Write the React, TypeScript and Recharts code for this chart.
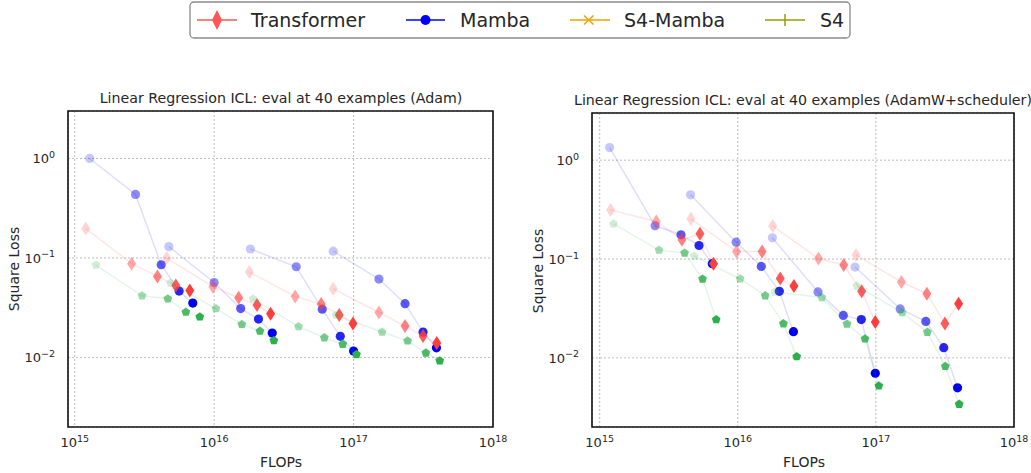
import React from 'react';
import { ScatterChart, Scatter, XAxis, YAxis, CartesianGrid, ReferenceArea } from 'recharts';

const FONT = '"DejaVu Sans", sans-serif';

// opacity of each checkpoint inside one run (earliest is faintest)
const stepAlpha = [0.22, 0.45, 0.65, 0.85, 1];

const xTicks = [1e15, 1e16, 1e17, 1e18];
const yTicks = [1e-2, 1e-1, 1];

// ---- Adam panel ----
const adamTransformerFlops = [
  [1.2e15, 2.56e15, 3.92e15, 5.31e15, 6.69e15],
  [4.57e15, 9.8e15, 1.5e16, 2.03e16, 2.54e16],
  [1.79e16, 3.81e16, 5.86e16, 7.89e16, 9.9e16],
  [7.15e16, 1.52e17, 2.34e17, 3.15e17, 3.95e17],
];
const adamTransformerLoss = [
  [0.198, 0.0875, 0.0652, 0.053, 0.0471],
  [0.0998, 0.0514, 0.0398, 0.0336, 0.0275],
  [0.0722, 0.041, 0.0344, 0.0267, 0.022],
  [0.049, 0.0283, 0.0207, 0.0164, 0.014],
];
const adamMambaFlops = [
  [1.28e15, 2.73e15, 4.17e15, 5.61e15, 7.03e15],
  [4.73e15, 1.0e16, 1.55e16, 2.08e16, 2.61e16],
  [1.82e16, 3.88e16, 5.96e16, 8.03e16, 1.0e17],
  [7.15e16, 1.52e17, 2.34e17, 3.15e17, 3.93e17],
];
const adamMambaLoss = [
  [1.0, 0.435, 0.0855, 0.0465, 0.0352],
  [0.13, 0.0567, 0.031, 0.0243, 0.0176],
  [0.123, 0.0816, 0.0306, 0.0163, 0.0116],
  [0.117, 0.0614, 0.0347, 0.018, 0.0125],
];
const adamS4Flops = [
  [1.42e15, 3.04e15, 4.65e15, 6.27e15, 7.89e15],
  [4.87e15, 1.03e16, 1.58e16, 2.13e16, 2.68e16],
  [1.9e16, 4.03e16, 6.17e16, 8.36e16, 1.05e17],
  [7.48e16, 1.6e17, 2.44e17, 3.3e17, 4.15e17],
];
const adamS4Loss = [
  [0.0849, 0.0417, 0.0389, 0.0286, 0.0256],
  [0.056, 0.031, 0.0215, 0.0184, 0.0148],
  [0.0389, 0.0204, 0.0158, 0.0136, 0.0107],
  [0.0267, 0.018, 0.0147, 0.0111, 0.00927],
];

// ---- AdamW + scheduler panel ----
const schedTransformerFlops = [
  [1.2e15, 2.57e15, 3.94e15, 5.32e15, 6.67e15],
  [4.58e15, 9.8e15, 1.5e16, 2.03e16, 2.55e16],
  [1.79e16, 3.84e16, 5.85e16, 7.89e16, 9.9e16],
  [7.18e16, 1.53e17, 2.34e17, 3.16e17, 3.97e17],
];
const schedTransformerLoss = [
  [0.313, 0.24, 0.157, 0.18, 0.0897],
  [0.255, 0.119, 0.119, 0.0637, 0.0534],
  [0.216, 0.101, 0.087, 0.0471, 0.0231],
  [0.11, 0.0586, 0.0446, 0.0223, 0.0353],
];
const schedMambaFlops = [
  [1.18e15, 2.52e15, 3.88e15, 5.24e15, 6.54e15],
  [4.55e15, 9.73e15, 1.48e16, 2.0e16, 2.53e16],
  [1.78e16, 3.81e16, 5.81e16, 7.84e16, 9.9e16],
  [7.06e16, 1.5e17, 2.3e17, 3.1e17, 3.9e17],
];
const schedMambaLoss = [
  [1.34, 0.217, 0.176, 0.137, 0.0897],
  [0.446, 0.148, 0.0841, 0.0471, 0.0184],
  [0.164, 0.0465, 0.0269, 0.0244, 0.00699],
  [0.083, 0.0313, 0.0234, 0.0127, 0.00498],
];
const schedS4Flops = [
  [1.26e15, 2.69e15, 4.12e15, 5.56e15, 6.98e15],
  [4.84e15, 1.04e16, 1.58e16, 2.14e16, 2.67e16],
  [1.86e16, 4.06e16, 6.18e16, 8.34e16, 1.05e17],
  [7.26e16, 1.55e17, 2.36e17, 3.18e17, 4.01e17],
];
const schedS4Loss = [
  [0.227, 0.123, 0.115, 0.0628, 0.0244],
  [0.107, 0.0632, 0.0426, 0.0222, 0.0103],
  [0.0465, 0.0409, 0.022, 0.0156, 0.00521],
  [0.0534, 0.0287, 0.0182, 0.00822, 0.0034],
];

const RED = '#ff3d3d';
const BLUE = '#0000f0';
const GREEN = '#2daf4b';

type Kind = 'diamond' | 'circle' | 'pentagon';

const toRuns = (flops: number[][], loss: number[][]) =>
  flops.map((run, g) => run.map((f, i) => ({ flops: f, loss: loss[g][i], step: i })));

const markerShape = (kind: Kind, color: string) => (p: any) => {
  const { cx, cy } = p;
  const a = stepAlpha[p.payload?.step ?? 4];
  if (cx == null || cy == null) return <g />;
  if (kind === 'circle') return <circle cx={cx} cy={cy} r={4.6} fill={color} fillOpacity={a} />;
  if (kind === 'diamond') {
    const pts = `${cx},${cy - 7} ${cx + 4.5},${cy} ${cx},${cy + 7} ${cx - 4.5},${cy}`;
    return <polygon points={pts} fill={color} fillOpacity={a} />;
  }
  const r = 4.6;
  const pts = [0, 1, 2, 3, 4]
    .map((k) => {
      const ang = -Math.PI / 2 + (k * 2 * Math.PI) / 5;
      return `${cx + r * Math.cos(ang)},${cy + r * Math.sin(ang)}`;
    })
    .join(' ');
  return <polygon points={pts} fill={color} fillOpacity={a} />;
};

const expLabel = (v: number) => {
  const e = Math.round(Math.log10(v));
  return e < 0 ? '\u2212' + Math.abs(e) : String(e);
};

const XTick = (p: any) => (
  <text x={p.x} y={p.y + 20} textAnchor="middle" fontFamily={FONT} fontSize={13} fill="#262626">
    <tspan>10</tspan>
    <tspan dy={-5.5} fontSize={9.5}>{expLabel(p.payload.value)}</tspan>
  </text>
);

const YTick = (p: any) => (
  <text x={p.x - 13} y={p.y + 5} textAnchor="end" fontFamily={FONT} fontSize={13} fill="#262626">
    <tspan>10</tspan>
    <tspan dy={-5.5} fontSize={9.5}>{expLabel(p.payload.value)}</tspan>
  </text>
);

interface PanelProps {
  left: number;
  width: number;
  top: number;
  right: number;
  yAxisWidth: number;
  xMin: number;
  transformer: { flops: number; loss: number; step: number }[][];
  mamba: { flops: number; loss: number; step: number }[][];
  s4: { flops: number; loss: number; step: number }[][];
}

const Y_MIN = 0.002;
const Y_MAX = 3.0;

const Panel = ({ left, width, top, right, yAxisWidth, xMin, transformer, mamba, s4 }: PanelProps) => {
  const line = (color: string) => ({ stroke: color, strokeOpacity: 0.13, strokeWidth: 1.5 });
  return (
    <div style={{ position: 'absolute', left, top: 0 }}>
      <ScatterChart width={width} height={473} margin={{ top, right, bottom: 16, left: 0 }}>
        <CartesianGrid stroke="#aaaaaa" strokeDasharray="2 2" strokeWidth={0.8} />
        <XAxis
          dataKey="flops"
          type="number"
          scale="log"
          domain={[xMin, 1e18]}
          allowDataOverflow
          ticks={xTicks}
          interval={0}
          tick={(p: any) => <XTick {...p} />}
          tickLine={false}
          axisLine={false}
          tickSize={0}
          tickMargin={0}
          height={30}
        />
        <YAxis
          dataKey="loss"
          type="number"
          scale="log"
          domain={[Y_MIN, Y_MAX]}
          allowDataOverflow
          ticks={yTicks}
          interval={0}
          tick={(p: any) => <YTick {...p} />}
          tickLine={false}
          axisLine={false}
          tickSize={0}
          tickMargin={0}
          width={yAxisWidth}
        />
        {mamba.map((run, g) => (
          <Scatter key={'m' + g} data={run} fill={BLUE} line={line(BLUE)}
            shape={markerShape('circle', BLUE)} isAnimationActive={false} />
        ))}
        {transformer.map((run, g) => (
          <Scatter key={'t' + g} data={run} fill={RED} line={line(RED)}
            shape={markerShape('diamond', RED)} isAnimationActive={false} />
        ))}
        {s4.map((run, g) => (
          <Scatter key={'s' + g} data={run} fill={GREEN} line={line(GREEN)}
            shape={markerShape('pentagon', GREEN)} isAnimationActive={false} />
        ))}
        <ReferenceArea x1={xMin} x2={1e18} y1={Y_MIN} y2={Y_MAX}
          fill="none" fillOpacity={0} stroke="#111" strokeWidth={1.6} ifOverflow="visible" />
      </ScatterChart>
    </div>
  );
};

const Legend = () => {
  const ty = 27;
  return (
    <g fontFamily={FONT} fontSize={19} fill="#262626">
      <rect x={190} y={2} width={660} height={36} rx={4} fill="#fff" stroke="#8a8a8a" strokeWidth={1.3} />
      {/* Transformer */}
      <line x1={197} x2={237} y1={20} y2={20} stroke="#ff5555" strokeWidth={1.5} />
      <polygon points="217,10 222,20 217,30 212,20" fill="#ff5555" />
      <text x={251} y={ty}>Transformer</text>
      {/* Mamba */}
      <line x1={406} x2={445} y1={20} y2={20} stroke="#0000ff" strokeWidth={1.5} />
      <circle cx={425.5} cy={20} r={5} fill="#0000ff" />
      <text x={460} y={ty}>Mamba</text>
      {/* S4-Mamba */}
      <line x1={570} x2={610} y1={20} y2={20} stroke="#f5a000" strokeWidth={1.5} />
      <path d="M584,15.5 L593.5,24.5 M593.5,15.5 L584,24.5" stroke="#f5a000" strokeWidth={1.5} />
      <text x={624} y={ty}>S4-Mamba</text>
      {/* S4 */}
      <line x1={765} x2={805} y1={20} y2={20} stroke="#9a9a00" strokeWidth={1.5} />
      <path d="M785,14 L785,26" stroke="#9a9a00" strokeWidth={1.5} />
      <text x={820} y={ty}>S4</text>
    </g>
  );
};

const adamT = toRuns(adamTransformerFlops, adamTransformerLoss);
const adamM = toRuns(adamMambaFlops, adamMambaLoss);
const adamS = toRuns(adamS4Flops, adamS4Loss);
const schedT = toRuns(schedTransformerFlops, schedTransformerLoss);
const schedM = toRuns(schedMambaFlops, schedMambaLoss);
const schedS = toRuns(schedS4Flops, schedS4Loss);

export default function App() {
  return (
    <div style={{ position: 'absolute', left: 0, top: 0, width: 1031, height: 473, background: '#fff', fontFamily: FONT }}>
      <Panel left={0} width={520} top={111} right={27} yAxisWidth={68} xMin={8.95e14}
        transformer={adamT} mamba={adamM} s4={adamS} />
      <Panel left={520} width={511} top={113} right={17} yAxisWidth={72} xMin={8.8e14}
        transformer={schedT} mamba={schedM} s4={schedS} />
      <svg width={1031} height={473} style={{ position: 'absolute', left: 0, top: 0, pointerEvents: 'none' }}>
        <Legend />
        <g fontFamily={FONT} fill="#262626">
          <text x={281} y={103} textAnchor="middle" fontSize={14.2}>
            Linear Regression ICL: eval at 40 examples (Adam)
          </text>
          <text x={803} y={105} textAnchor="middle" fontSize={14.2}>
            Linear Regression ICL: eval at 40 examples (AdamW+scheduler)
          </text>
          <text x={281} y={467} textAnchor="middle" fontSize={14}>FLOPs</text>
          <text x={804} y={467} textAnchor="middle" fontSize={14}>FLOPs</text>
          <text transform="translate(19,269) rotate(-90)" textAnchor="middle" fontSize={14}>Square Loss</text>
          <text transform="translate(543,271) rotate(-90)" textAnchor="middle" fontSize={14}>Square Loss</text>
        </g>
      </svg>
    </div>
  );
}
